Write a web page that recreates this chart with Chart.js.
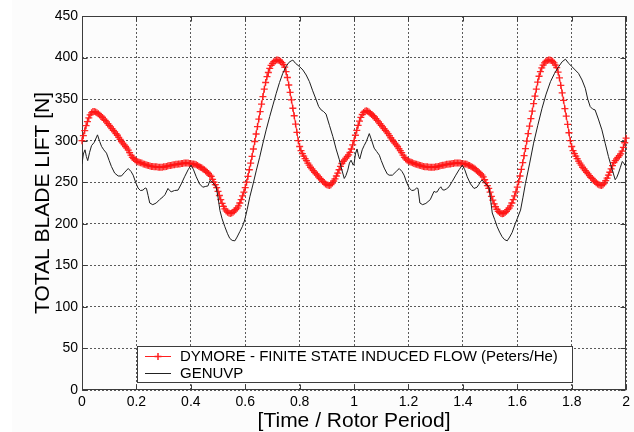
<!DOCTYPE html>
<html><head><meta charset="utf-8">
<script src="https://cdn.jsdelivr.net/npm/chart.js@4.4.0/dist/chart.umd.min.js"></script>
<style>html,body{margin:0;padding:0;background:#fff;overflow:hidden}canvas{display:block}</style>
</head><body>
<canvas id="c" width="634" height="432"></canvas>
<script>
// ---------- DATA ----------
const seriesNames = ['DYMORE - FINITE STATE INDUCED FLOW (Peters/He)', 'GENUVP'];
const xTitle = '[Time / Rotor Period]';
const yTitle = 'TOTAL BLADE LIFT [N]';
const xTicks = [0, 0.2, 0.4, 0.6, 0.8, 1, 1.2, 1.4, 1.6, 1.8, 2];
const yTicks = [0, 50, 100, 150, 200, 250, 300, 350, 400, 450];

// DYMORE: uniformly sampled, first sample at t = 0, step 0.005 rotor periods
const redStart = 0;
const redStep = 0.005;
const redLift = [
 300,306,312,318,323,327.5,331,333.5,335,335,334.5,333.5,332.5,331,329.5,328,326,324.5,322.5,320.5,
 318.5,316.5,314.5,312.5,310.5,308.5,306.5,304,301.5,299,297,295,293,291,288.5,285.5,282.5,280,278.5,277,
 275.5,274.5,274,273.5,273,272,271.5,271,270.5,270,269.5,269,269,268.5,268.5,268.5,268,268,268,268,
 268.5,268.5,269,269.5,270,270,270.5,271,271,271.5,271.5,272,272,272.5,272.5,273,273,273,273,272.5,
 272.5,272,272,271.5,271,270,269,268,267.5,266,265,263.5,262,260.5,258.5,257,253.5,250,247,243.5,
 239,234,229,224.5,221,218,215.5,214,213,212.5,213,214,215.5,217,219,221.5,225,229,233.5,238,
 243.5,250,257,265,273,281,290,299,308,317,326,335,344,353,362,370,377,382,387,390.5,
 393,395,396,397,397,396.5,395.5,394,391.5,388.5,383,376,367,358,349,339,330,320,310,300,
 293,288,284.5,281.5,278.5,276,273,270.5,268,266,264,262,260,258.5,256.5,254.5,253,251,249.5,248,
 247,246.5,246,247,249,251.5,254,257.5,261,265,269,272.5,275,277,279,281,283,286,290,295,
 300,306.5,312.5,318.5,323.5,328,331.5,334,335.5,336,335.5,334.5,333,331.5,330,328.5,326.5,324.5,322.5,320.5,
 318.5,316.5,314.5,312.5,310.5,308.5,306,303.5,301,299,297,295,293,290.5,288,285.5,282.5,280,278,276.5,
 275.5,274.5,274,273.5,272.5,272,271.5,271,270.5,270,269.5,269,268.5,268.5,268.5,268,268,268,268,268,
 268.5,268.5,269,269.5,270,270.5,270.5,271,271.5,271.5,272,272,272.5,272.5,273,273,273,273,273,272.5,
 272.5,272,272,271.5,270.5,270,269,268,267,266,264.5,263,261.5,260,258.5,256.5,253,249.5,246,242.5,
 238,233,228.5,224,220.5,217.5,215,213.5,212.5,212,212.5,213.5,215,217,219,221.5,225,229,233.5,238.5,
 244,250.5,257.5,265.5,273.5,282,290.5,299.5,308.5,317.5,326.5,335.5,344.5,353.5,362,370.5,377.5,383,387.5,391,
 393.5,395.5,396.5,397,397,396.5,395.5,393.5,391,388,382.5,375.5,366.5,357.5,348.5,338.5,329.5,319.5,309.5,300,
 293,288,284.5,281.5,278.5,275.5,273,270.5,268,266,264,262,260,258,256,254.5,252.5,251,249.5,248,
 247,246.5,246,247,249,252,255,258.5,262,266,270,273.5,276,278,280,282,284,287.5,292,297.5,
 303
];

// GENUVP: polyline vertices
const blackTime = [
 0,0.005,0.011,0.016,0.021, 0.028,0.035,0.045,0.057,0.065, 0.072,0.080,0.090,0.100,0.108,
 0.120,0.133,0.145,0.157,0.170, 0.180,0.188,0.197,0.206,0.215, 0.224,0.232,0.237,0.243,0.249,
 0.260,0.273,0.285,0.298,0.305, 0.316,0.322,0.328,0.340,0.353, 0.365,0.377,0.390,0.401,0.410,
 0.420,0.432,0.444,0.455,0.463, 0.470,0.475,0.482,0.493,0.500, 0.507,0.515,0.525,0.535,0.543,
 0.552,0.562,0.570,0.580,0.590, 0.598,0.607,0.617,0.629,0.641, 0.653,0.665,0.677,0.690,0.702,
 0.714,0.726,0.738,0.750,0.760, 0.769,0.775,0.785,0.800,0.812, 0.824,0.836,0.848,0.861,0.870,
 0.879,0.888,0.897,0.910,0.922, 0.934,0.946,0.955,0.964,0.970, 0.977,0.983,0.989,0.997,
 1.000,1.005,1.011,1.017,1.021, 1.030,1.037,1.045,1.056,1.065, 1.074,1.083,1.093,1.100,1.111,
 1.122,1.129,1.141,1.155,1.166, 1.176,1.184,1.193,1.203,1.212, 1.221,1.230,1.235,1.242,1.252,
 1.264,1.280,1.294,1.300,1.306, 1.312,1.319,1.325,1.331,1.340, 1.349,1.361,1.374,1.386,1.398,
 1.407,1.416,1.428,1.441,1.452, 1.459,1.465,1.471,1.480,1.489, 1.496,1.502,1.508,1.517,1.526,
 1.535,1.544,1.553,1.563,1.572, 1.581,1.593,1.602,1.612,1.621, 1.630,1.645,1.660,1.675,1.691,
 1.706,1.722,1.737,1.752,1.765, 1.777,1.789,1.801,1.813,1.825, 1.838,1.850,1.859,1.868,1.877,
 1.886,1.898,1.911,1.923,1.935, 1.948,1.960,1.966,1.972,1.979, 1.986,1.991,1.996,2.000
];
const blackLift = [
 272,284,289,281,276, 286,294,298,307,299, 293,289,285,276,269,
 261,257.5,257.5,262,266.5, 263,258.5,250,243,240, 240.5,243,242.5,234,225,
 223,225,229,232.5,235, 242.5,240,238.5,240,240.5, 248,256.5,265,270.5,265,
 256.5,248,244,245,245.5, 252,251.5,249,244.5,232, 216,206,196.5,188,182.5,
 180,179.5,184,190.5,197, 204.5,217,232.5,248,264.5, 280,297,313,329,343,
 357,370,381,389,394, 396,397,393,389,385, 379,371,360,349,341,
 337,335,332,318,305, 290,277,265,254.5,258, 264.5,273,276.5,270.5,
 272,284,290,281,278, 289,294,299,308.5,300, 291,287,282.5,276,267,
 260,258.5,258.5,263,266.5, 263,258.5,250,243,240, 240.5,243,242.5,225,223,
 224.5,229,239,238,238.5, 242,244.5,241,240.5,242, 244.5,251,258.5,265,270.5,
 265,256.5,248,242.5,244, 247.5,251,252.5,249,246.5, 244,229,213,205,196.5,
 190,184.5,181,179.5,184, 189.5,200.5,208,216.5,232, 248.5,272,297,318,339,
 356,371,381,389,395, 398,393,389,385,381, 373,363,350,341,338,
 337,326,313,297,281, 266,253,256,261,268, 275,273,270.5,275
];

// ---------- CHART ----------
const FONT = "'Liberation Sans', Arial, Helvetica, sans-serif";
const redPoints = redLift.map((v, i) => ({ x: +(redStart + i * redStep).toFixed(4), y: v }));
const blackPoints = blackTime.map((t, i) => ({ x: t, y: blackLift[i] }));

const frameColor = '#3c3c3c';

const decorPlugin = {
  id: 'decor',
  beforeDraw(chart) {
    const ctx = chart.ctx;
    ctx.save();
    ctx.fillStyle = '#ffffff';
    ctx.fillRect(0, 0, chart.width, chart.height);
    ctx.fillStyle = '#fcfcfc';
    ctx.fillRect(12, 0, chart.width - 12, chart.height);
    ctx.restore();
  },
  beforeDatasetsDraw(chart) {
    // box + inward ticks (MATLAB style)
    const ctx = chart.ctx, a = chart.chartArea;
    const xs = chart.scales.x, ys = chart.scales.y;
    ctx.save();
    ctx.setLineDash([]);
    ctx.strokeStyle = frameColor;
    ctx.lineWidth = 1;
    const L = Math.round(a.left) + 0.5, R = Math.round(a.right) - 0.5;
    const T = Math.round(a.top) + 0.5, B = Math.round(a.bottom) - 0.5;
    ctx.strokeRect(L, T, R - L, B - T);
    ctx.beginPath();
    const tl = 5;
    xTicks.forEach(v => {
      const px = Math.round(xs.getPixelForValue(v)) + 0.5;
      ctx.moveTo(px, B); ctx.lineTo(px, B - tl);
      ctx.moveTo(px, T); ctx.lineTo(px, T + tl);
    });
    yTicks.forEach(v => {
      const py = Math.round(ys.getPixelForValue(v)) + 0.5;
      ctx.moveTo(L, py); ctx.lineTo(L + tl, py);
      ctx.moveTo(R, py); ctx.lineTo(R - tl, py);
    });
    ctx.stroke();
    ctx.restore();
  },
  afterDraw(chart) {
    const ctx = chart.ctx;
    ctx.save();
    ctx.setLineDash([]);
    // legend box
    const bx = 137.5, by = 346.5, bw = 435, bh = 36;
    ctx.fillStyle = '#ffffff';
    ctx.fillRect(bx, by, bw, bh);
    ctx.strokeStyle = frameColor;
    ctx.lineWidth = 1;
    ctx.strokeRect(bx, by, bw, bh);
    const rows = [356, 373];
    // red entry
    ctx.strokeStyle = '#ff2020';
    ctx.lineWidth = 1;
    ctx.beginPath(); ctx.moveTo(145, rows[0] + 0.5); ctx.lineTo(171, rows[0] + 0.5); ctx.stroke();
    ctx.beginPath(); ctx.moveTo(154.5, rows[0] + 0.5); ctx.lineTo(161.5, rows[0] + 0.5);
    ctx.moveTo(158, rows[0] - 3); ctx.lineTo(158, rows[0] + 4); ctx.lineWidth = 1.5; ctx.stroke();
    // black entry
    ctx.strokeStyle = '#222';
    ctx.lineWidth = 1;
    ctx.beginPath(); ctx.moveTo(145, rows[1] + 0.5); ctx.lineTo(171, rows[1] + 0.5); ctx.stroke();
    ctx.fillStyle = '#000';
    ctx.font = '15px ' + FONT;
    ctx.textBaseline = 'middle';
    ctx.textAlign = 'left';
    ctx.fillText(seriesNames[0], 180, rows[0] + 1);
    ctx.fillText(seriesNames[1], 180, rows[1] + 1);
    ctx.restore();
  }
};

new Chart(document.getElementById('c'), {
  type: 'line',
  data: {
    datasets: [
      {
        label: seriesNames[1],
        data: blackPoints,
        borderColor: '#1e1e1e',
        borderWidth: 1,
        pointRadius: 0,
        tension: 0,
        fill: false,
        order: 1
      },
      {
        label: seriesNames[0],
        data: redPoints,
        borderColor: '#ff2020',
        borderWidth: 1,
        pointStyle: 'cross',
        pointRadius: 3.5,
        pointBorderWidth: 1.3,
        pointBorderColor: 'rgba(255,20,20,0.9)',
        pointBackgroundColor: 'rgba(255,20,20,0.9)',
        tension: 0,
        fill: false,
        clip: false,
        order: 2
      }
    ]
  },
  options: {
    responsive: false,
    animation: false,
    devicePixelRatio: 1,
    layout: { padding: { left: 0, right: 6, top: 16, bottom: 0 } },
    plugins: { legend: { display: false }, tooltip: { enabled: false } },
    scales: {
      x: {
        type: 'linear',
        min: 0, max: 2,
        afterBuildTicks: s => { s.ticks = xTicks.map(v => ({ value: v })); },
        afterFit: s => { s.height = 42; },
        ticks: {
          autoSkip: false, maxRotation: 0, padding: 4, color: '#000',
          font: { family: FONT, size: 14 },
          callback: v => String(v)
        },
        grid: { color: '#5a5a5a', lineWidth: 1, drawTicks: false, borderDash: [2, 2] },
        border: { display: false, dash: [2, 2] },
        title: {
          display: true, text: xTitle, color: '#000',
          font: { family: FONT, size: 21, lineHeight: 1 },
          padding: { top: 0, bottom: 0 }
        }
      },
      y: {
        type: 'linear',
        min: 0, max: 450,
        afterBuildTicks: s => { s.ticks = yTicks.map(v => ({ value: v })); },
        afterFit: s => { s.width = 82; },
        ticks: {
          autoSkip: false, padding: 4, color: '#000',
          font: { family: FONT, size: 14 },
          callback: v => String(v)
        },
        grid: { color: '#5a5a5a', lineWidth: 1, drawTicks: false, borderDash: [2, 2] },
        border: { display: false, dash: [2, 2] },
        title: {
          display: true, text: yTitle, color: '#000',
          font: { family: FONT, size: 21, lineHeight: 1 },
          padding: { top: 33, bottom: 0 }
        }
      }
    }
  },
  plugins: [decorPlugin]
});
</script>
</body></html>
